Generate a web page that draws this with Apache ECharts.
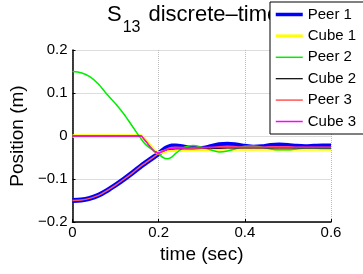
<!DOCTYPE html>
<html>
<head>
<meta charset="utf-8">
<script src="https://cdn.jsdelivr.net/npm/echarts@6/dist/echarts.min.js"></script>
<style>
  html,body{margin:0;padding:0;background:#fff;}
  #canvas{width:363px;height:274px;}
</style>
</head>
<body>
<div id="canvas"></div>
<script>
var time = [0,0.02,0.04,0.06,0.08,0.1,0.12,0.14,0.16,0.17,0.18,0.19,0.2,0.21,0.22,0.23,0.24,0.26,0.28,0.3,0.32,0.34,0.36,0.38,0.4,0.42,0.44,0.46,0.48,0.5,0.52,0.54,0.56,0.58,0.6];
var peer1 = [-0.150,-0.149,-0.145,-0.138,-0.127,-0.114,-0.100,-0.085,-0.069,-0.062,-0.055,-0.048,-0.041,-0.033,-0.027,-0.023,-0.023,-0.026,-0.029,-0.029,-0.025,-0.020,-0.019,-0.021,-0.024,-0.026,-0.025,-0.022,-0.021,-0.022,-0.024,-0.025,-0.024,-0.023,-0.023];
var cube1 = [0,0,0,0,0,0,0,0,0,-0.011,-0.023,-0.035,-0.040,-0.037,-0.034,-0.033,-0.033,-0.032,-0.031,-0.031,-0.031,-0.030,-0.030,-0.030,-0.030,-0.030,-0.030,-0.030,-0.030,-0.030,-0.030,-0.030,-0.030,-0.030,-0.030];
var peer2 = [0.150,0.147,0.138,0.121,0.097,0.075,0.050,0.021,-0.008,-0.020,-0.028,-0.035,-0.042,-0.050,-0.053,-0.049,-0.040,-0.026,-0.022,-0.026,-0.032,-0.037,-0.035,-0.029,-0.024,-0.023,-0.026,-0.030,-0.032,-0.032,-0.030,-0.028,-0.028,-0.029,-0.029];
var cube2 = [0,0,0,0,0,0,0,0,0,-0.012,-0.025,-0.036,-0.040,-0.036,-0.032,-0.031,-0.030,-0.030,-0.030,-0.029,-0.029,-0.029,-0.028,-0.028,-0.028,-0.028,-0.028,-0.028,-0.028,-0.028,-0.028,-0.028,-0.028,-0.028,-0.028];
var peer3 = [-0.150,-0.149,-0.145,-0.138,-0.127,-0.114,-0.100,-0.085,-0.069,-0.062,-0.055,-0.048,-0.041,-0.035,-0.030,-0.027,-0.026,-0.027,-0.028,-0.028,-0.027,-0.025,-0.024,-0.025,-0.026,-0.026,-0.026,-0.025,-0.025,-0.025,-0.026,-0.026,-0.026,-0.026,-0.026];
var cube3 = [0,0,0,0,0,0,0,0,0,-0.012,-0.025,-0.036,-0.040,-0.035,-0.031,-0.029,-0.028,-0.028,-0.027,-0.027,-0.027,-0.027,-0.027,-0.027,-0.027,-0.027,-0.027,-0.027,-0.027,-0.027,-0.027,-0.027,-0.027,-0.027,-0.027];
var names = ['Peer 1','Cube 1','Peer 2','Cube 2','Peer 3','Cube 3'];
var colors = ['#0000ff','#ffff00','#00ee00','#000000','#ff5555','#ff00ff'];
var widths = [5,3.5,1.5,1,1.5,1.5];
var xTicks = [0,0.2,0.4,0.6];
var yTicks = [-0.2,-0.1,0,0.1,0.2];

function pairs(v){
    var out = [];
    for(var i=0;i<time.length;i++){ out.push([time[i], v[i]]); }
    return out;
}

var myChart = echarts.init(document.getElementById('canvas'));
var font = 'Liberation Sans, Arial, Helvetica, sans-serif';
var allData = [peer1,cube1,peer2,cube2,peer3,cube3];
var series = [];
for(var i=0;i<names.length;i++){
    series.push({
        name:names[i],
        type:'line',
        symbol:'none',
        smooth: (i%2==0) ? 0.3 : false,
        lineStyle:{color:colors[i],width:widths[i]},
        itemStyle:{color:colors[i]},
        data:pairs(allData[i])
    });
}

option = {
    animation:false,
    textStyle:{fontFamily:font},
    // title sits under the legend box, like the original figure
    title:{
        z:1,
        left:107,
        top:4,
        padding:0,
        text:'{a|S}{b|13}{c|discrete–time}',
        textStyle:{
            fontWeight:'normal',
            rich:{
                a:{fontSize:22,fontWeight:'normal',fontFamily:font,color:'#000',lineHeight:26,verticalAlign:'top'},
                b:{fontSize:16,fontWeight:'normal',fontFamily:font,color:'#000',lineHeight:18,padding:[16,0,0,1],verticalAlign:'top'},
                c:{fontSize:22,fontWeight:'normal',fontFamily:font,color:'#000',lineHeight:26,verticalAlign:'top',padding:[0,0,0,8]}
            }
        }
    },
    legend:{
        z:10,
        orient:'vertical',
        left:270,
        top:2,
        padding:[5,30,5,4],
        itemWidth:27,
        itemHeight:10,
        itemGap:6.4,
        itemStyle:{opacity:0},
        lineStyle:{width:3},
        backgroundColor:'#fff',
        borderColor:'#000',
        borderWidth:1,
        textStyle:{fontSize:15,color:'#000',fontFamily:font},
        data:[
            {name:'Peer 1',lineStyle:{width:3.5}},
            {name:'Cube 1',lineStyle:{width:3}},
            {name:'Peer 2',lineStyle:{width:1.5}},
            {name:'Cube 2',lineStyle:{width:1.2}},
            {name:'Peer 3',lineStyle:{width:1.5}},
            {name:'Cube 3',lineStyle:{width:1.5}}
        ]
    },
    grid:{left:72,right:32,top:50,bottom:52},
    xAxis:{
        type:'value',
        min:0,max:0.6,interval:0.2,
        name:'time (sec)',
        nameLocation:'middle',
        nameGap:23,
        nameTextStyle:{fontSize:19,color:'#000'},
        axisLine:{onZero:false,lineStyle:{color:'#000',width:1.5}},
        axisTick:{inside:true,length:3,lineStyle:{color:'#000'}},
        axisLabel:{fontSize:15,color:'#000',margin:3,formatter:function(v){return xTicks.indexOf(+v.toFixed(1))>=0?String(+v.toFixed(1)):'';}},
        splitLine:{show:true,lineStyle:{color:'#bbb',type:'dotted'}}
    },
    yAxis:{
        type:'value',
        min:-0.2,max:0.2,interval:0.1,
        name:'Position (m)',
        nameLocation:'middle',
        nameGap:44,
        nameTextStyle:{fontSize:19,color:'#000'},
        axisLine:{show:true,onZero:false,lineStyle:{color:'#000',width:1.5}},
        axisTick:{show:true,inside:true,length:3,lineStyle:{color:'#000'}},
        axisLabel:{fontSize:15,color:'#000',margin:5,formatter:function(v){
            var r = +v.toFixed(1);
            return r<0 ? '\u2212'+String(-r) : String(r);
        }},
        splitLine:{show:true,lineStyle:{color:'#bbb',type:'dotted'}}
    },
    series:series
};

myChart.setOption(option);
</script>
</body>
</html>
